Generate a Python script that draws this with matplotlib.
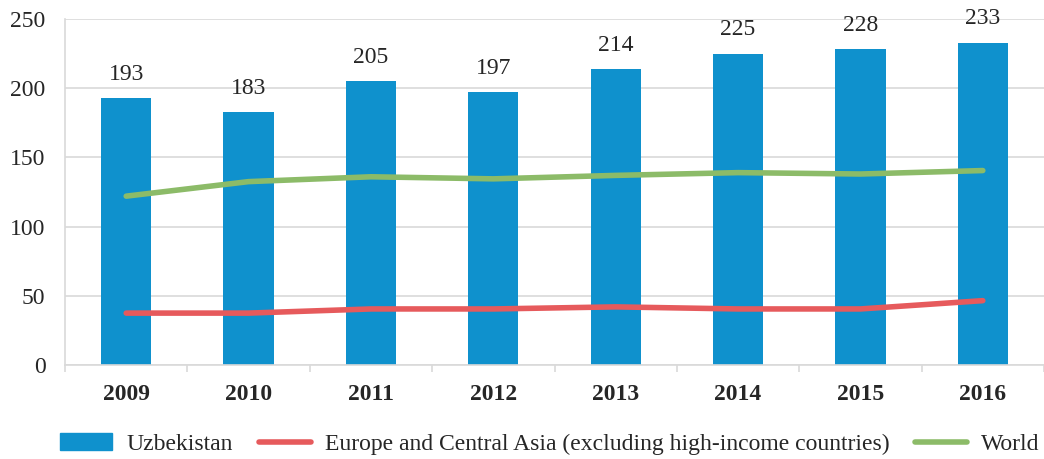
import numpy as np
import matplotlib.pyplot as plt
from matplotlib.patches import Patch
from matplotlib.lines import Line2D

years = ['2009', '2010', '2011', '2012', '2013', '2014', '2015', '2016']
uzbekistan = [193, 183, 205, 197, 214, 225, 228, 233]
europe_ca = [37.5, 37.5, 40.5, 40.5, 42, 40.5, 40.5, 46.5]
world = [122, 132.5, 136, 134.5, 137, 139, 138, 140.5]

bar_col = '#0F91CD'
red_col = '#E65A5C'
green_col = '#8CBB68'
grid_col = '#D9D9D9'
txt_col = '#262626'

plt.rcParams['font.family'] = ['Liberation Serif', 'DejaVu Serif']

fig = plt.figure(figsize=(10.44, 4.59), dpi=100)
ax = fig.add_axes([65 / 1044, 94 / 459, 979 / 1044, 346 / 459])

x = np.arange(len(years))
ax.bar(x, uzbekistan, width=0.41, color=bar_col, zorder=2)
ax.plot(x, europe_ca, color=red_col, lw=4, solid_capstyle='round', zorder=3)
ax.plot(x, world, color=green_col, lw=4, solid_capstyle='round', zorder=3)

for xi, v in zip(x, uzbekistan):
    ax.annotate(str(v), (xi, v), xytext=(0, 9.5), textcoords='offset points',
                ha='center', va='bottom', fontsize=17, color=txt_col)

ax.set_ylim(0, 250)
ax.set_yticks([0, 50, 100, 150, 200, 250])
ax.set_xlim(-0.5, 7.38)
ax.set_xticks(x)
ax.set_xticklabels(years, fontweight='bold')
ax.set_xticks(np.arange(-0.5, 8, 1), minor=True)

ax.grid(axis='y', color=grid_col, lw=1.2, zorder=0)
ax.set_axisbelow(True)
for s in ['top', 'right']:
    ax.spines[s].set_visible(False)
for s in ['left', 'bottom']:
    ax.spines[s].set_color(grid_col)
    ax.spines[s].set_linewidth(1.2)

ax.tick_params(axis='y', length=0, labelsize=17, labelcolor=txt_col, pad=14)
ax.tick_params(axis='x', which='major', length=0, labelsize=17,
               labelcolor=txt_col, pad=14)
ax.tick_params(axis='x', which='minor', length=5, color=grid_col, width=1.2)

handles = [Patch(color=bar_col),
           Line2D([], [], color=red_col, lw=4, solid_capstyle='round'),
           Line2D([], [], color=green_col, lw=4, solid_capstyle='round')]
labels = ['Uzbekistan',
          'Europe and Central Asia (excluding high-income countries)',
          'World']
fig.legend(handles, labels, loc='center', bbox_to_anchor=(550 / 1044, 1 - 444 / 459),
           ncol=3, frameon=False, fontsize=17, handlelength=2.2,
           handletextpad=0.6, columnspacing=1.1, labelcolor=txt_col)

fig.savefig('out.png', dpi=100)
